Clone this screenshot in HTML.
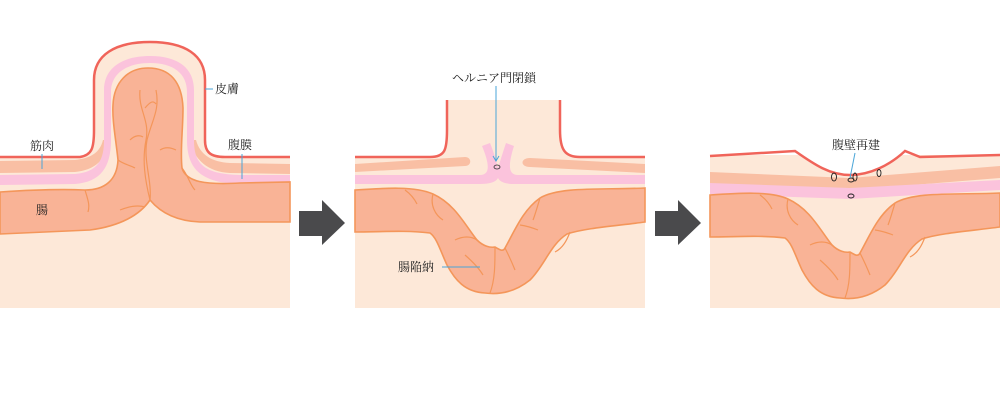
<!DOCTYPE html>
<html><head><meta charset="utf-8"><style>
html,body{margin:0;padding:0;background:#fff;}
svg{display:block;}
text{font-family:"Liberation Serif","Noto Serif CJK SC","Noto Sans CJK JP",serif;font-size:12px;fill:#222;}
</style></head><body>
<svg width="1000" height="400" viewBox="0 0 1000 400" xmlns="http://www.w3.org/2000/svg">
<defs>
<g id="gut">
<path d="M0 190 C30 188 60 186 78 194 C100 204 110 225 122 240 C128 246 135 248 140 247 C145 250 148 252 150 248 C160 230 168 210 185 198 C205 186 250 190 290 188 L290 222 C260 226 230 228 212 234 C195 245 190 265 175 280 C160 292 145 295 130 293 C110 292 100 280 92 265 C85 250 82 238 75 233 C50 230 25 232 0 232 Z" fill="#f9b396" stroke="#f4965a" stroke-width="1.6"/>
<path d="M50 190 C57 195 60 200 62 204 M78 194 C75 205 80 215 88 220 M100 240 C108 236 116 236 122 240 M140 247 C140 265 140 280 135 293 M150 248 C155 258 158 265 160 270 M165 225 C172 226 178 228 183 230 M185 198 C182 208 180 215 178 220 M215 232 C212 240 208 248 200 252 M110 255 C118 262 125 270 128 275" fill="none" stroke="#f4965a" stroke-width="1.2"/>
</g>
</defs>

<!-- Panel 1 -->
<rect x="0" y="157" width="290" height="151" fill="#fde8d8"/>
<path d="M0 157 L80 157 C92 155 94 148 94 130 L94 80 C94 55 115 42 150 42 C185 42 205 55 205 80 L205 140 C205 152 210 157 225 157 L290 157 L290 200 L0 200 Z" fill="#fde8d8"/>
<path d="M0 157 L80 157 C92 155 94 148 94 130 L94 80 C94 55 115 42 150 42 C185 42 205 55 205 80 L205 140 C205 152 210 157 225 157 L290 157" fill="none" stroke="#f0645a" stroke-width="2.5"/>
<!-- muscle -->
<path d="M0 161 L75 160 C92 158 100 152 103 140 L110 140 C106 160 95 170 75 172 L0 173 Z" fill="#f9bfa4"/>
<path d="M290 164 L230 163 C212 162 200 155 196 140 L190 140 C194 160 208 172 230 173 L290 174 Z" fill="#f9bfa4"/>
<!-- peritoneum -->
<path d="M0 175 L75 174 C98 172 104 160 104 140 L104 90 C104 68 122 56 150 56 C178 56 194 68 194 90 L194 140 C194 165 205 174 240 175 L290 175 L290 184 L240 184 C200 183 187 168 187 140 L187 92 C187 74 174 63 150 63 C126 63 111 74 111 92 L111 140 C111 168 100 182 75 184 L0 185 Z" fill="#fbc3dc"/>
<!-- intestine -->
<path d="M0 192 C30 190 60 189 85 190 C105 190 117 180 118 160 C116 140 112 120 113 105 C114 82 128 68 148 68 C170 68 182 82 183 108 C183 130 180 150 182 168 C186 182 205 185 240 183 L290 182 L290 222 L200 222 C175 221 160 212 150 200 C140 215 120 226 90 230 L0 234 Z" fill="#f9b396" stroke="#f4965a" stroke-width="1.6"/>
<path d="M140 90 C138 110 150 120 146 140 C142 160 145 180 150 200 M150 200 C152 180 143 160 147 140 C152 120 160 110 156 90 M145 108 C150 102 153 100 156 104 M118 160 C125 165 130 165 135 168 M130 140 C135 135 140 135 143 137 M160 150 C166 146 172 148 176 150 M182 168 C188 175 190 185 195 190 M85 190 C88 200 90 205 88 212 M120 210 C130 206 138 205 145 207" fill="none" stroke="#f4965a" stroke-width="1.2"/>
<text x="215" y="93">皮膚</text>
<line x1="205" y1="89" x2="213" y2="89" stroke="#4aa6d8" stroke-width="1"/>
<text x="30" y="150">筋肉</text>
<line x1="42" y1="154" x2="42" y2="169" stroke="#4aa6d8" stroke-width="1"/>
<text x="228" y="149">腹膜</text>
<line x1="242" y1="154" x2="242" y2="179" stroke="#4aa6d8" stroke-width="1"/>
<text x="36" y="214">腸</text>

<!-- Arrows -->
<path d="M299 211 L322 211 L322 200 L345 223 L322 245 L322 236 L299 236 Z" fill="#4a4a4c"/>
<path d="M655 211 L678 211 L678 200 L701 223 L678 245 L678 236 L655 236 Z" fill="#4a4a4c"/>

<!-- Panel 2 -->
<rect x="355" y="157" width="290" height="151" fill="#fde8d8"/>
<path d="M447 100 L560 100 L560 130 C560 150 565 157 580 157 L645 157 L645 170 L355 170 L355 157 L430 157 C445 157 447 150 447 130 Z" fill="#fde8d8"/>
<path d="M447 100 L447 130 C447 150 445 157 430 157 L355 157 M560 100 L560 130 C560 150 565 157 580 157 L645 157" fill="none" stroke="#f0645a" stroke-width="2.5"/>
<path d="M355 164 L465 157 C472 157 472 166 465 166 L355 172 Z" fill="#f9bfa4"/>
<path d="M645 164 L530 158 C520 158 520 167 530 167 L645 173 Z" fill="#f9bfa4"/>
<path d="M355 175 L480 175 C490 175 490 165 482 146 L490 143 C495 155 497 165 498 168 C499 165 502 155 506 143 L514 146 C508 165 508 175 518 175 L645 175 L645 184 L515 184 C505 184 500 182 498 178 C496 182 490 184 480 184 L355 184 Z" fill="#fbc3dc"/>
<ellipse cx="497" cy="167" rx="3" ry="2" fill="none" stroke="#333" stroke-width="0.8"/>
<use href="#gut" x="355" y="0"/>
<text x="452" y="82">ヘルニア門閉鎖</text>
<line x1="496" y1="86" x2="496" y2="160" stroke="#4aa6d8" stroke-width="1"/>
<path d="M493 156 L496 161 L499 156" fill="none" stroke="#4aa6d8" stroke-width="1"/>
<text x="398" y="271">腸陥納</text>
<line x1="442" y1="267" x2="480" y2="267" stroke="#4aa6d8" stroke-width="1"/>

<!-- Panel 3 -->
<rect x="710" y="155" width="290" height="153" fill="#fde8d8"/>
<path d="M710 155 L795 152 C815 165 830 175 850 175 C870 175 890 165 905 152 L1000 155 L1000 150 L710 150 Z" fill="#fff"/>
<path d="M710 156 L795 151 C815 165 830 175 850 175 C870 175 890 165 905 151 L920 157 L1000 155" fill="none" stroke="#f0645a" stroke-width="2.5"/>
<path d="M710 172 L850 178 L1000 166 L1000 178 L850 190 L710 184 Z" fill="#f9bfa4"/>
<path d="M710 183 L850 188 L1000 180 L1000 190 L850 199 L710 194 Z" fill="#fbc3dc"/>
<use href="#gut" x="355" y="5" transform="translate(355,0)"/>
<ellipse cx="834" cy="177" rx="2.5" ry="4" fill="none" stroke="#222" stroke-width="0.9"/>
<ellipse cx="851" cy="180" rx="3" ry="2" fill="none" stroke="#222" stroke-width="0.9"/>
<ellipse cx="855" cy="177" rx="2" ry="4" fill="none" stroke="#222" stroke-width="0.9"/>
<ellipse cx="879" cy="173" rx="2" ry="3.5" fill="none" stroke="#222" stroke-width="0.9"/>
<ellipse cx="851" cy="196" rx="3" ry="2" fill="none" stroke="#222" stroke-width="0.9"/>
<text x="832" y="149">腹壁再建</text>
<line x1="855" y1="153" x2="850" y2="178" stroke="#4aa6d8" stroke-width="1"/>
</svg>
</body></html>
